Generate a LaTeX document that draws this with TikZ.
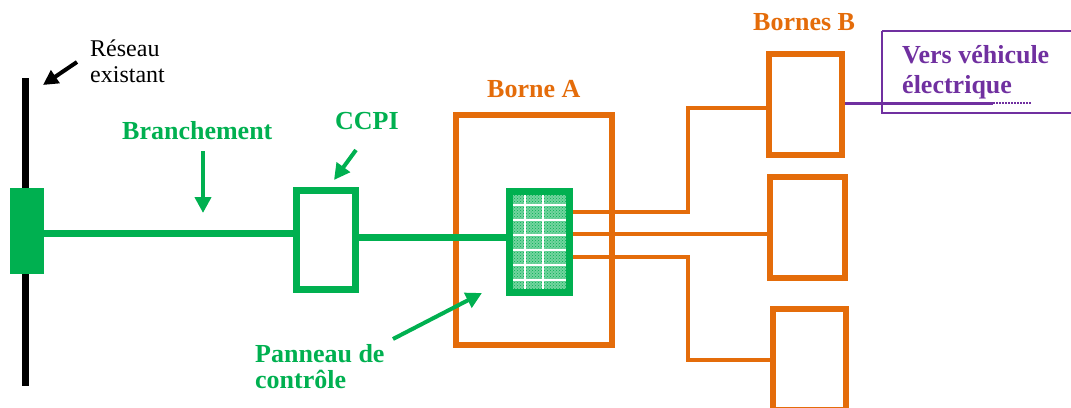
\documentclass[tikz,border=0pt]{standalone}
\usepackage{fontspec}
\setmainfont{Liberation Serif}
\usetikzlibrary{arrows.meta,patterns}
\definecolor{vgreen}{HTML}{00B050}
\definecolor{vorange}{HTML}{E46C0A}
\definecolor{vpurple}{HTML}{7030A0}
\tikzset{
  lbl/.style={font=\fontsize{26}{26}\selectfont\bfseries, inner sep=0pt, anchor=base west, align=left},
  glbl/.style={lbl, text=vgreen},
  olbl/.style={lbl, text=vorange},
  gbox/.style={draw=vgreen, line width=7pt},
  obox/.style={draw=vorange, line width=6pt},
  oline/.style={draw=vorange, line width=4.5pt},
  garrow/.style={draw=vgreen, line width=4pt, -{Triangle[length=16pt,width=16pt]}},
}
\begin{document}
\begin{tikzpicture}[x=1pt,y=-1pt]
\useasboundingbox (0,0) rectangle (1071,407);
% existing network
\draw[line width=7pt] (25.5,78) -- (25.5,386);
\node[fill=vgreen, minimum width=34pt, minimum height=86pt, inner sep=0pt] (res) at (27,231) {};
\node[font=\fontsize{24}{26}\selectfont, inner sep=0pt, anchor=base west, align=left] (reslbl) at (90,82) {Réseau\\existant};
\coordinate (resarrtail) at (77,62);
\coordinate (resarrtip) at (43,85);
\draw[line width=4pt, -{Triangle[length=15pt,width=15pt]}] (resarrtail) -- (resarrtip);
% CCPI
\node[gbox, minimum width=59pt, minimum height=99pt, inner sep=0pt] (ccpi) at (325.5,239.5) {};
\draw[draw=vgreen, line width=7pt] (res.east |- 0,233) -- (ccpi.west |- 0,233);
% Borne A
\node[obox, minimum width=156pt, minimum height=230pt, inner sep=0pt] (borneA) at (534,230) {};
% panel
\coordinate (p1) at (509.5,191.5);
\coordinate (p2) at (569.5,292.5);
\fill[vgreen!55] (p1) rectangle (p2);
\fill[pattern=crosshatch dots, pattern color=vgreen] (p1) rectangle (p2);
\foreach \x in {525,543} \draw[white, line width=1.5pt] (\x,192) -- (\x,292);
\foreach \y in {205,220,235,250,265,280} \draw[white, line width=1.2pt] (510,\y) -- (569,\y);
\node[gbox, minimum width=60pt, minimum height=101pt, inner sep=0pt] (panel) at (539.5,242) {};
\draw[draw=vgreen, line width=7pt] (ccpi.east |- 0,237) -- (panel.west |- 0,237);
% Bornes B
\node[obox, minimum width=73pt, minimum height=101pt, inner sep=0pt] (b1) at (805.5,104.5) {};
\node[obox, minimum width=75pt, minimum height=101pt, inner sep=0pt] (b2) at (807.5,227.5) {};
\node[obox, minimum width=73pt, minimum height=101pt, inner sep=0pt] (b3) at (809.5,359.5) {};
\coordinate (j1) at (688,212);
\coordinate (j3) at (688,257);
\draw[oline] (panel.east |- 0,212) -- (j1) -- (j1 |- 0,108) -- (b1.west |- 0,108);
\draw[oline] (panel.east |- 0,234) -- (b2.west |- 0,234);
\draw[oline] (panel.east |- 0,257) -- (j3) -- (j3 |- 0,360) -- (b3.west |- 0,360);
% vehicle
\draw[vpurple, line width=1.5pt] (882,31) -- (1075,31);
\draw[vpurple, line width=1.5pt] (1075,113) -- (882,113) -- (882,31);
\coordinate (vehend) at (993,103);
\coordinate (vehdot) at (1032,103);
\draw[vpurple, line width=3pt] (b1.east |- 0,103) -- (vehend);
\draw[vpurple, line width=2pt, dash pattern=on 1.5pt off 1.5pt] (vehend) -- (vehdot);
\node[lbl, text=vpurple, font=\fontsize{26}{30}\selectfont\bfseries] (veh) at (902,93) {Vers véhicule\\électrique};
% labels
\node[glbl] (branch) at (122,139) {Branchement};
\coordinate (brtail) at (203,151);
\coordinate (brtip) at (203,213);
\draw[garrow] (brtail) -- (brtip);
\node[glbl] (ccpilbl) at (335,129) {CCPI};
\coordinate (cctail) at (356,150);
\coordinate (cctip) at (334,180);
\draw[garrow] (cctail) -- (cctip);
\node[olbl] (bAlbl) at (487,97) {Borne A};
\node[olbl] (bBlbl) at (753,30) {Bornes B};
\node[glbl] (panlbl) at (255,388) {Panneau de\\contrôle};
\coordinate (pntail) at (393,339);
\coordinate (pntip) at (482,293);
\draw[garrow] (pntail) -- (pntip);
\end{tikzpicture}
\end{document}
